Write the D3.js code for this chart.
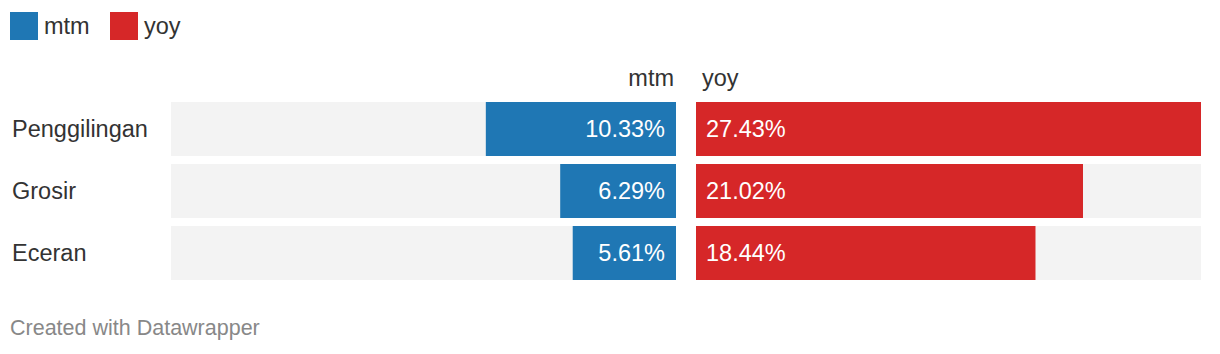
<!DOCTYPE html>
<html>
<head>
<meta charset="utf-8">
<script src="https://cdn.jsdelivr.net/npm/d3@7"></script>
<style>
  body { margin: 0; background: #fff; font-family: "Liberation Sans", Arial, sans-serif; }
  text { font-family: "Liberation Sans", Arial, sans-serif; }
</style>
</head>
<body>
<svg id="chart" width="1220" height="354"></svg>
<script>
var categories = ["Penggilingan", "Grosir", "Eceran"];
var mtm = [10.33, 6.29, 5.61];
var yoy = [27.43, 21.02, 18.44];
var seriesNames = ["mtm", "yoy"];
var colors = ["#1f77b4", "#d62728"];

var svg = d3.select("#chart");

// legend
var leg = svg.selectAll("g.leg")
  .data(seriesNames)
  .enter()
  .append("g")
  .attr("transform", (d, i) => "translate(" + (10 + i * 100) + ",12)");
leg.append("rect")
  .attr("width", 28).attr("height", 28)
  .attr("fill", (d, i) => colors[i]);
leg.append("text")
  .attr("x", 34).attr("y", 22)
  .attr("font-size", 23.5).attr("fill", "#333")
  .text(d => d);

// shared scale for both columns
var maxV = d3.max(mtm.concat(yoy));
var w = d3.scaleLinear().domain([0, maxV]).range([0, 505]);
var y = d3.scaleBand().domain(categories).range([102, 280]).paddingInner(8 / 62).paddingOuter(0);

var mtmRight = 676, yoyLeft = 696;

// headers
svg.append("text").attr("x", mtmRight - 2).attr("y", 86)
  .attr("text-anchor", "end").attr("font-size", 23.5).attr("fill", "#333").text("mtm");
svg.append("text").attr("x", yoyLeft + 6).attr("y", 86)
  .attr("font-size", 23.5).attr("fill", "#333").text("yoy");

var rows = svg.selectAll("g.row")
  .data(categories)
  .enter()
  .append("g")
  .attr("transform", d => "translate(0," + y(d) + ")");

rows.append("text")
  .attr("x", 12).attr("y", y.bandwidth() / 2 + 8)
  .attr("font-size", 23.5).attr("fill", "#333")
  .text(d => d);

// backgrounds
rows.append("rect")
  .attr("x", mtmRight - w(maxV)).attr("width", w(maxV))
  .attr("height", y.bandwidth()).attr("fill", "#f3f3f3");
rows.append("rect")
  .attr("x", yoyLeft).attr("width", w(maxV))
  .attr("height", y.bandwidth()).attr("fill", "#f3f3f3");

// mtm bars, growing leftwards
rows.append("rect")
  .attr("x", (d, i) => mtmRight - w(mtm[i])).attr("width", (d, i) => w(mtm[i]))
  .attr("height", y.bandwidth()).attr("fill", colors[0]);
rows.append("text")
  .attr("x", mtmRight - 11).attr("y", y.bandwidth() / 2 + 8)
  .attr("text-anchor", "end").attr("font-size", 23.5).attr("fill", "#fff")
  .text((d, i) => mtm[i].toFixed(2) + "%");

// yoy bars
rows.append("rect")
  .attr("x", yoyLeft).attr("width", (d, i) => w(yoy[i]))
  .attr("height", y.bandwidth()).attr("fill", colors[1]);
rows.append("text")
  .attr("x", yoyLeft + 10).attr("y", y.bandwidth() / 2 + 8)
  .attr("font-size", 23.5).attr("fill", "#fff")
  .text((d, i) => yoy[i].toFixed(2) + "%");

svg.append("text")
  .attr("x", 10).attr("y", 335)
  .attr("font-size", 21.5).attr("fill", "#888")
  .text("Created with Datawrapper");
</script>
</body>
</html>
